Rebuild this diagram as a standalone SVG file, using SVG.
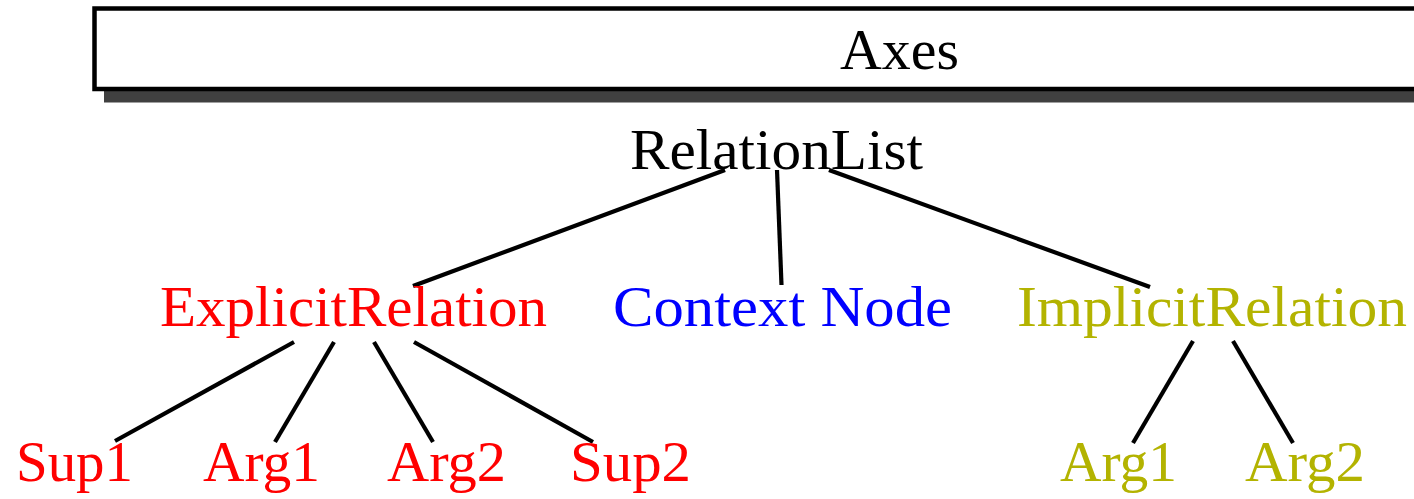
<svg xmlns="http://www.w3.org/2000/svg" width="1414" height="499" viewBox="0 0 1414 499">
<style>
text{font-family:"Liberation Serif","Times New Roman",serif;font-size:57px}
.k{fill:#000}.r{fill:#FF0000}.b{fill:#0000FF}.y{fill:#B3B300}
.e{stroke:#000;stroke-width:4.2;fill:none;stroke-linecap:butt}
</style>
<g id="axes">
<rect x="104" y="20" width="1330" height="82.5" fill="#404040"/>
<rect x="94.5" y="8.5" width="1340" height="80.5" fill="#fff" stroke="#000" stroke-width="4.5"/>
<text class="k" x="840" y="69" textLength="119" lengthAdjust="spacingAndGlyphs">Axes</text>
</g>
<g id="connectors">
<line class="e" x1="725" y1="170" x2="413" y2="286"/>
<line class="e" x1="777" y1="170" x2="781.5" y2="285"/>
<line class="e" x1="829" y1="170" x2="1150" y2="287"/>
<line class="e" x1="294" y1="342" x2="115" y2="441"/>
<line class="e" x1="334" y1="342" x2="275" y2="442"/>
<line class="e" x1="374" y1="342" x2="433" y2="442"/>
<line class="e" x1="414" y1="342" x2="593" y2="442"/>
<line class="e" x1="1193" y1="341" x2="1133" y2="443"/>
<line class="e" x1="1233" y1="341" x2="1293" y2="443"/>
</g>
<g id="relationlist"><text class="k" x="630" y="169" textLength="293" lengthAdjust="spacingAndGlyphs">RelationList</text></g>
<g id="explicitrelation"><text class="r" x="160" y="326" textLength="387" lengthAdjust="spacingAndGlyphs">ExplicitRelation</text></g>
<g id="contextnode"><text class="b" x="613" y="326" textLength="339" lengthAdjust="spacingAndGlyphs">Context Node</text></g>
<g id="implicitrelation"><text class="y" x="1017" y="326" textLength="390" lengthAdjust="spacingAndGlyphs">ImplicitRelation</text></g>
<g id="sup1"><text class="r" x="16" y="481" textLength="117" lengthAdjust="spacingAndGlyphs">Sup1</text></g>
<g id="arg1-explicit"><text class="r" x="203" y="481" textLength="117" lengthAdjust="spacingAndGlyphs">Arg1</text></g>
<g id="arg2-explicit"><text class="r" x="387" y="481" textLength="119" lengthAdjust="spacingAndGlyphs">Arg2</text></g>
<g id="sup2"><text class="r" x="570" y="481" textLength="121" lengthAdjust="spacingAndGlyphs">Sup2</text></g>
<g id="arg1-implicit"><text class="y" x="1060" y="481" textLength="117" lengthAdjust="spacingAndGlyphs">Arg1</text></g>
<g id="arg2-implicit"><text class="y" x="1245" y="481" textLength="120" lengthAdjust="spacingAndGlyphs">Arg2</text></g>
</svg>
